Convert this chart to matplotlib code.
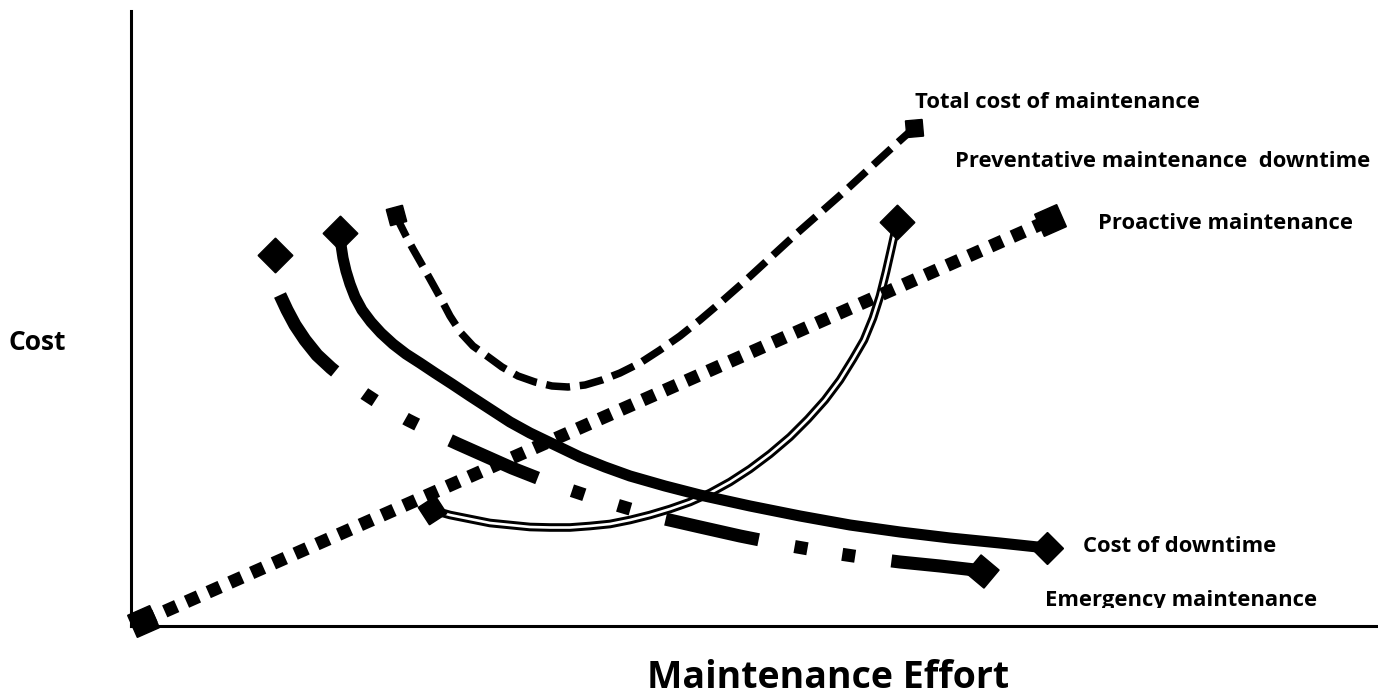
import matplotlib
matplotlib.use("Agg")
from matplotlib import pyplot as plt
from matplotlib.transforms import Bbox

# effort (x) and cost (y), arbitrary units
proactive_effort = [1.2, 91.9]
proactive_cost = [0.5, 40.6]

downtime_effort = [20.9, 21.0, 21.2, 21.5, 21.9, 22.4, 23.1, 24.0, 25.0, 26.2, 27.5, 28.9,
                   30.4, 32.1, 33.9, 35.9, 37.9, 39.9, 42.4, 44.9, 47.4, 49.9, 53.4, 56.9,
                   61.9, 66.9, 71.9, 76.9, 81.9, 86.9, 91.6]
downtime_cost = [39.3, 38.1, 36.8, 35.5, 34.2, 32.9, 31.6, 30.4, 29.3, 28.2, 27.2, 26.3,
                 25.3, 24.2, 23.0, 21.7, 20.4, 19.3, 18.1, 16.9, 15.9, 15.0, 14.0, 13.1,
                 12.0, 11.0, 10.1, 9.4, 8.8, 8.3, 7.8]

emergency_effort = [14.9, 15.6, 16.4, 17.4, 18.6, 20.0, 21.6, 23.4, 25.4, 27.7, 30.1, 32.7,
                    35.4, 38.1, 40.9, 43.9, 46.9, 49.9, 53.4, 56.9, 60.9, 64.9, 68.9, 72.9,
                    76.9, 80.9, 84.4]
emergency_cost = [33.1, 31.6, 30.1, 28.6, 27.1, 25.8, 24.5, 23.2, 21.9, 20.6, 19.4, 18.2,
                  17.0, 15.8, 14.7, 13.6, 12.6, 11.7, 10.7, 9.9, 9.0, 8.2, 7.5, 6.9,
                  6.4, 6.0, 5.6]
emergency_ends_effort = [14.4, 85.1]
emergency_ends_cost = [37.1, 5.5]

total_effort = [26.5, 26.9, 27.5, 28.2, 29.0, 29.9, 30.9, 31.9, 33.0, 34.2, 35.6, 37.1,
                38.7, 40.4, 42.1, 43.7, 45.4, 47.1, 48.9, 50.9, 52.9, 54.9, 56.9, 58.9,
                61.4, 63.9, 66.4, 68.9, 71.4, 73.9, 76.4, 78.3]
total_cost = [41.1, 40.2, 39.0, 37.7, 36.3, 34.7, 32.9, 31.0, 29.3, 28.0, 27.0, 25.9,
              25.0, 24.4, 24.0, 23.9, 24.1, 24.6, 25.3, 26.3, 27.6, 29.0, 30.6, 32.3,
              34.5, 36.8, 39.1, 41.3, 43.5, 45.8, 48.1, 49.8]

prevent_effort = [30.1, 31.9, 33.9, 35.9, 37.9, 39.9, 41.9, 43.9, 45.9, 47.9, 49.9, 51.9,
                  53.9, 55.9, 57.9, 59.9, 61.9, 63.9, 65.9, 67.7, 69.4, 70.9, 72.2, 73.3,
                  74.2, 74.9, 75.5, 76.0, 76.4, 76.6]
prevent_cost = [11.6, 11.1, 10.7, 10.3, 10.1, 9.9, 9.85, 9.85, 10.0, 10.2, 10.6, 11.1,
                11.7, 12.4, 13.3, 14.4, 15.7, 17.2, 18.9, 20.7, 22.6, 24.6, 26.7, 28.6,
                30.8, 33.0, 35.4, 37.6, 39.4, 40.4]

W, H = 1378, 699
FONT = ["Open Sans", "DejaVu Sans"]

fig = plt.figure(figsize=(W / 100, H / 100), dpi=100)
ax = fig.add_axes([131 / W, 73 / H, 1 - 131 / W, 615 / H])
ax.set_xlim(0, 124.7)
ax.set_ylim(0, 61.5)
ax.set_xticks([])
ax.set_yticks([])
for side in ["top", "right"]:
    ax.spines[side].set_visible(False)
for side in ["left", "bottom"]:
    ax.spines[side].set_linewidth(2.2)

def marker_at(x, y, size, angle=0):
    ax.plot([x], [y], linestyle="none", marker=(4, 0, angle), markersize=size,
            color="black", clip_on=False, zorder=6)

# preventative maintenance downtime: double line
ax.plot(prevent_effort, prevent_cost, color="black", lw=6.2, clip_on=False, zorder=2,
        solid_capstyle="butt", solid_joinstyle="round")
ax.plot(prevent_effort, prevent_cost, color="white", lw=1.9, clip_on=False, zorder=2.1,
        solid_capstyle="butt", solid_joinstyle="round")
marker_at(prevent_effort[0], prevent_cost[0], 21, 78)
marker_at(prevent_effort[-1], prevent_cost[-1], 25)

# cost of downtime: thick solid
ax.plot(downtime_effort, downtime_cost, color="black", lw=8, clip_on=False, zorder=3,
        solid_capstyle="butt", solid_joinstyle="round")
marker_at(downtime_effort[0], downtime_cost[0], 25)
marker_at(downtime_effort[-1], downtime_cost[-1], 23)

# emergency maintenance: dash-dot-dot
ax.plot(emergency_effort, emergency_cost, color="black", lw=9.4, clip_on=False, zorder=3,
        linestyle=(0, (7.3, 2.8, 1, 2.7, 1, 2.8)), dash_capstyle="butt",
        dash_joinstyle="round")
marker_at(emergency_ends_effort[0], emergency_ends_cost[0], 25)
marker_at(emergency_ends_effort[1], emergency_ends_cost[1], 24, 5)

# total cost of maintenance: dashed
ax.plot(total_effort, total_cost, color="black", lw=5.4, clip_on=False, zorder=4,
        linestyle=(0, (3.2, 1.3)), dash_capstyle="butt", dash_joinstyle="round")
marker_at(total_effort[0], total_cost[0], 17, 60)
marker_at(total_effort[-1], total_cost[-1], 17, 50)

# proactive maintenance: square dots
ax.plot(proactive_effort, proactive_cost, color="black", lw=9.4, clip_on=False, zorder=5,
        linestyle=(0, (1, 0.82)), dash_capstyle="butt")
marker_at(proactive_effort[0], proactive_cost[0], 24.5, 68.8)
marker_at(proactive_effort[-1], proactive_cost[-1], 24.5, 68.8)

label_kw = dict(fontsize=15.8, fontweight="bold", family=FONT, va="baseline", ha="left")

def curve_label(x, y, s, cut=None):
    t = ax.text(x, y, s, **label_kw)
    if cut is not None:
        # the original text boxes cut off the descenders
        t.set_clip_box(Bbox([[0, H - cut], [W, H]]))
        t.set_clip_on(True)

curve_label(78.4, 51.8, "Total cost of maintenance", cut=109)
curve_label(82.4, 45.9, "Preventative maintenance  downtime")
curve_label(96.7, 39.7, "Proactive maintenance", cut=231)
curve_label(95.2, 7.4, "Cost of downtime")
curve_label(91.4, 2.0, "Emergency maintenance", cut=608)

fig.text(8 / W, 1 - 350 / H, "Cost", fontsize=19, fontweight="bold", family=FONT,
         va="baseline", ha="left")
fig.text(828 / W, 1 - 688 / H, "Maintenance Effort", fontsize=27, fontweight="bold",
         family=FONT, va="baseline", ha="center")

fig.savefig("out.png", dpi=100)
